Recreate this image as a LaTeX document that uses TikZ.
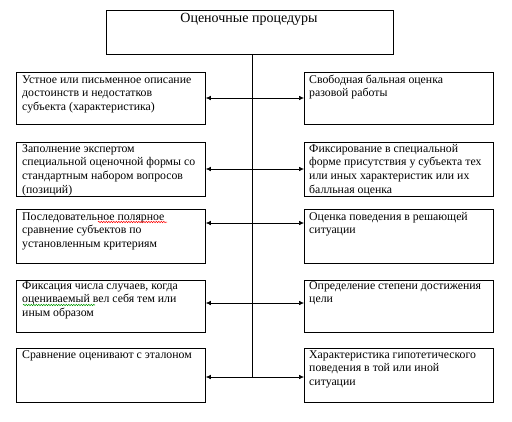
\documentclass[tikz,border=0pt]{standalone}
\usepackage{fontspec}
\setmainfont{Liberation Serif}
\usetikzlibrary{arrows.meta,decorations.pathmorphing}
\newcommand{\fl}{\rule{0pt}{9pt}}
\begin{document}
\begin{tikzpicture}[x=1pt,y=-1pt,
  box/.style={draw, line width=0.8pt, anchor=north west, inner sep=0pt},
  txt/.style={anchor=north west, align=left, inner sep=0pt, font=\fontsize{11.8}{13.7}\selectfont},
  link/.style={{Latex[length=5pt,width=4.5pt]}-{Latex[length=5pt,width=4.5pt]}, line width=0.6pt},
  squig/.style={decorate, decoration={snake, amplitude=0.7pt, segment length=2.5pt}, line width=0.5pt}]
\useasboundingbox (0,0) rectangle (512,421);
% top
\node[box, minimum width=287pt, minimum height=44.5pt] (top) at (106,9.5) {};
\node[anchor=base, inner sep=0pt, font=\fontsize{14}{16}\selectfont] (ttl) at (249,22.5) {Оценочные процедуры};
% left boxes
\node[box, minimum width=189pt, minimum height=52pt] (l1) at (16,72) {};
\node[box, minimum width=189pt, minimum height=54pt] (l2) at (16,141.5) {};
\node[box, minimum width=189pt, minimum height=54pt] (l3) at (16,209) {};
\node[box, minimum width=189pt, minimum height=52pt] (l4) at (16,280) {};
\node[box, minimum width=189pt, minimum height=54pt] (l5) at (16,348) {};
% right boxes
\node[box, minimum width=189pt, minimum height=52pt] (r1) at (304,72) {};
\node[box, minimum width=189pt, minimum height=54pt] (r2) at (304,141.5) {};
\node[box, minimum width=189pt, minimum height=54pt] (r3) at (304,209) {};
\node[box, minimum width=189pt, minimum height=52pt] (r4) at (304,280) {};
\node[box, minimum width=189pt, minimum height=54pt] (r5) at (304,348) {};
% texts (node top = first baseline - 9pt)
\node[txt] (tl1) at (22,74) {\fl Устное или письменное описание\\достоинств и недостатков\\субъекта (характеристика)};
\node[txt] (tl2) at (22,143) {\fl Заполнение экспертом\\специальной оценочной формы со\\стандартным набором вопросов\\(позиций)};
\node[txt] (tl3) at (22,211) {\fl Последовательное полярное\\сравнение субъектов по\\установленным критериям};
\node[txt] (tl4) at (22,280) {\fl Фиксация числа случаев, когда\\оцениваемый вел себя тем или\\иным образом};
\node[txt] (tl5) at (22,349) {\fl Сравнение оценивают с эталоном};
\node[txt] (tr1) at (309,74) {\fl Свободная бальная оценка\\разовой работы};
\node[txt] (tr2) at (309,143) {\fl Фиксирование в специальной\\форме присутствия у субъекта тех\\или иных характеристик или их\\балльная оценка};
\node[txt] (tr3) at (309,211) {\fl Оценка поведения в решающей\\ситуации};
\node[txt] (tr4) at (309,280) {\fl Определение степени достижения\\цели};
\node[txt] (tr5) at (309,349) {\fl Характеристика гипотетического\\поведения в той или иной\\ситуации};
% spine
\coordinate (c1) at (252,98);
\coordinate (c2) at (252,169);
\coordinate (c3) at (252,223);
\coordinate (c4) at (252,303);
\coordinate (c5) at (252,377);
\draw[line width=0.8pt] (top.south -| c5) -- (c5);
\foreach \i in {1,...,5}{
  \draw[link] (l\i.east |- c\i) -- (r\i.west |- c\i);
}
% spellcheck marks
\coordinate (s1a) at (98,222);
\coordinate (s1b) at (167,222);
\coordinate (s2a) at (23,305);
\coordinate (s2b) at (95,305);
\draw[squig, red] (s1a) -- (s1b);
\draw[squig, green!60!black] (s2a) -- (s2b);
\end{tikzpicture}
\end{document}
